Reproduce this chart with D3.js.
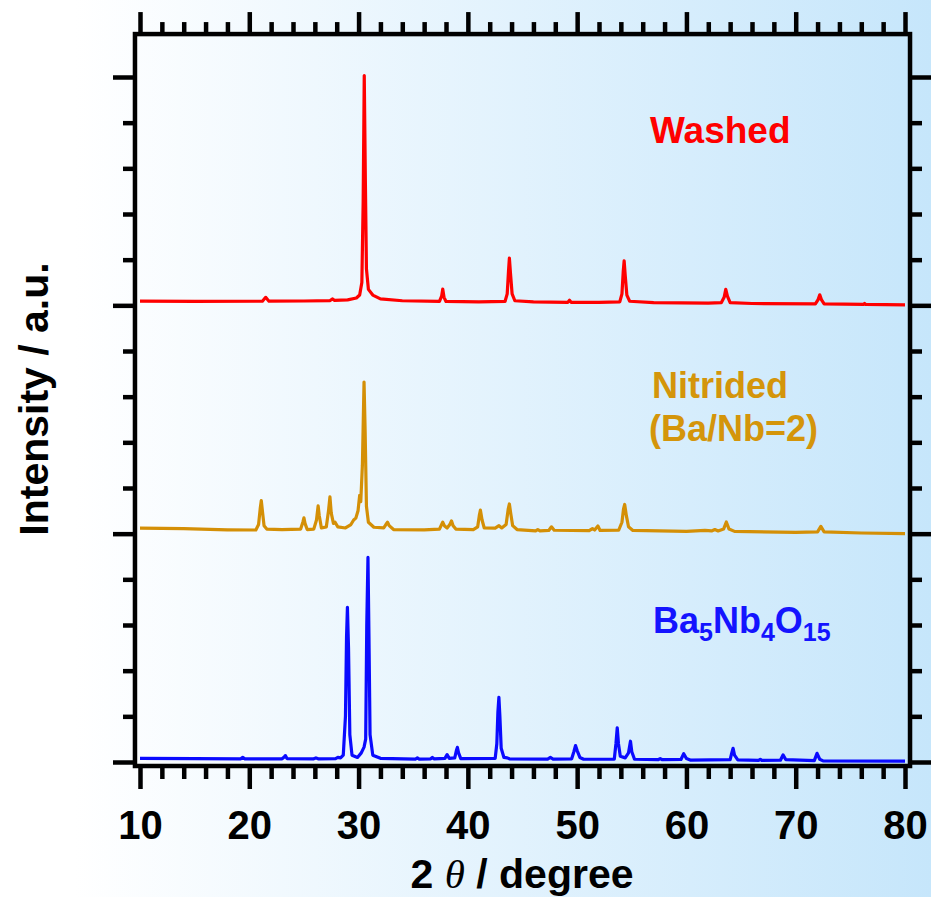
<!DOCTYPE html>
<html>
<head>
<meta charset="utf-8">
<script src="https://cdn.jsdelivr.net/npm/d3@7.9.0/dist/d3.min.js"></script>
<style>
  html, body { margin: 0; padding: 0; }
  body { width: 931px; height: 897px; overflow: hidden; }
  text { font-family: "Liberation Sans", Arial, sans-serif; font-weight: bold; }
</style>
</head>
<body>
<svg id="chart" width="931" height="897"></svg>
<script>
// XRD patterns, [2θ (degree), intensity above own offset (a.u.)]
const washedPattern = [
  [10,0.018],[15,0.017],[21.2,0.018],[21.5,0.035],[21.8,0.018],[25,0.019],[27.4,0.021],[27.6,0.028],[27.8,0.022],
  [29.0,0.024],[29.8,0.032],[30.1,0.045],[30.3,0.1],[30.42,0.45],[30.52,1.006],[30.62,0.55],[30.72,0.16],[30.9,0.07],
  [31.3,0.045],[32.0,0.028],[34,0.02],[37.4,0.017],[37.6,0.04],[37.7,0.071],[37.82,0.035],[38.0,0.017],[41,0.015],
  [43.4,0.017],[43.6,0.05],[43.72,0.15],[43.8,0.207],[43.9,0.14],[44.05,0.05],[44.3,0.02],[46,0.015],
  [49.15,0.013],[49.3,0.022],[49.45,0.013],[52,0.013],[53.9,0.015],[54.1,0.05],[54.22,0.15],[54.3,0.195],[54.4,0.13],
  [54.55,0.045],[54.8,0.018],[57,0.012],[62,0.01],[63.2,0.012],[63.45,0.035],[63.6,0.07],[63.75,0.04],[64.0,0.012],
  [66,0.008],[71.8,0.006],[72.05,0.025],[72.2,0.046],[72.35,0.025],[72.6,0.006],[76.2,0.004],[76.3,0.008],[76.4,0.004],[80,0.002]
];

const nitridedPattern = [
  [10,0.024],[14,0.022],[18,0.017],[20.6,0.016],[20.85,0.04],[21.0,0.11],[21.1,0.145],[21.2,0.1],[21.35,0.035],[21.6,0.02],
  [23,0.018],[24.7,0.02],[24.9,0.05],[25.0,0.069],[25.1,0.045],[25.3,0.018],[25.9,0.02],[26.15,0.06],[26.3,0.122],
  [26.4,0.08],[26.6,0.025],[27.05,0.03],[27.25,0.1],[27.38,0.161],[27.5,0.09],[27.7,0.045],[27.85,0.05],[28.1,0.03],
  [28.8,0.025],[29.3,0.04],[29.55,0.06],[29.75,0.068],[29.95,0.1],[30.1,0.168],[30.2,0.14],[30.35,0.3],[30.5,0.664],
  [30.6,0.45],[30.72,0.12],[30.9,0.05],[31.4,0.028],[32.3,0.025],[32.5,0.04],[32.65,0.05],[32.8,0.035],[33.2,0.018],
  [36,0.017],[37.4,0.02],[37.6,0.04],[37.7,0.05],[37.85,0.035],[38.1,0.025],[38.35,0.04],[38.5,0.056],[38.65,0.035],
  [38.9,0.02],[40.5,0.018],[40.9,0.03],[41.05,0.08],[41.15,0.103],[41.3,0.06],[41.5,0.025],[42.5,0.024],[42.85,0.035],
  [43.1,0.025],[43.5,0.04],[43.7,0.11],[43.8,0.13],[43.92,0.09],[44.1,0.035],[44.5,0.018],[46.2,0.012],[46.4,0.018],
  [46.6,0.012],[47.4,0.014],[47.65,0.03],[47.9,0.015],[51.1,0.013],[51.4,0.022],[51.6,0.016],[51.9,0.034],[52.1,0.014],
  [53.8,0.015],[54.1,0.05],[54.25,0.11],[54.35,0.128],[54.5,0.08],[54.7,0.03],[55.1,0.014],[60,0.01],[61.7,0.014],
  [62.3,0.012],[62.6,0.018],[62.9,0.012],[63.4,0.02],[63.65,0.051],[63.9,0.02],[64.4,0.01],[70,0.006],[72.0,0.008],
  [72.3,0.032],[72.6,0.008],[76,0.003],[80,0.0]
];

const bnoPattern = [
  [10,0.016],[15,0.015],[19.2,0.014],[19.4,0.02],[19.6,0.014],[23.0,0.014],[23.2,0.022],[23.3,0.028],[23.45,0.015],
  [25.9,0.014],[26.1,0.018],[26.3,0.014],[27.9,0.015],[28.1,0.02],[28.35,0.018],[28.6,0.03],[28.8,0.2],[28.9,0.55],
  [28.98,0.677],[29.08,0.5],[29.2,0.12],[29.4,0.03],[29.9,0.02],[30.25,0.04],[30.5,0.065],[30.65,0.1],[30.75,0.6],
  [30.86,0.896],[30.95,0.55],[31.05,0.12],[31.3,0.03],[32,0.016],[35.2,0.013],[35.38,0.018],[35.55,0.013],[36.6,0.014],
  [36.75,0.02],[36.9,0.014],[37.9,0.016],[38.1,0.032],[38.3,0.016],[38.8,0.018],[38.95,0.05],[39.04,0.064],[39.15,0.04],
  [39.35,0.015],[42.5,0.016],[42.65,0.08],[42.75,0.22],[42.84,0.283],[42.93,0.2],[43.05,0.06],[43.3,0.02],[43.6,0.018],
  [43.8,0.014],[47.3,0.013],[47.55,0.02],[47.8,0.013],[49.5,0.014],[49.7,0.045],[49.85,0.072],[50.0,0.05],[50.25,0.02],
  [50.6,0.012],[53.4,0.013],[53.55,0.08],[53.67,0.15],[53.78,0.08],[53.95,0.025],[54.4,0.018],[54.7,0.04],[54.88,0.091],
  [55.0,0.045],[55.25,0.012],[57.4,0.01],[57.6,0.015],[57.8,0.01],[59.5,0.011],[59.75,0.036],[60.0,0.015],[60.4,0.008],
  [64.0,0.01],[64.15,0.04],[64.27,0.06],[64.4,0.03],[64.7,0.009],[66.6,0.007],[66.76,0.012],[66.9,0.007],[68.6,0.008],
  [68.84,0.031],[69.1,0.01],[71.7,0.006],[71.95,0.038],[72.2,0.012],[72.5,0.005],[80,0.004]
];

const offsets = [2, 1, 0];
const lineColors = ["#ff0000", "#d48f06", "#0a0aff"];
const xMajorTicks = [10, 20, 30, 40, 50, 60, 70, 80];
const xMinorTicks = d3.range(12, 80, 2).filter(v => v % 10 !== 0);
const yMajorTicks = [0, 1, 2, 3];
const yMinorTicks = d3.range(1, 15).map(i => i / 5).filter(v => v % 1 !== 0);

const svg = d3.select("#chart");

// background gradient
const defs = svg.append("defs");
const grad = defs.append("linearGradient").attr("id", "bg").attr("x1", "0%").attr("x2", "100%");
grad.append("stop").attr("offset", "0%").attr("stop-color", "#ffffff");
grad.append("stop").attr("offset", "8%").attr("stop-color", "#ffffff");
grad.append("stop").attr("offset", "100%").attr("stop-color", "#c6e6fb");
svg.append("rect").attr("width", 931).attr("height", 897).attr("fill", "url(#bg)");

const x = d3.scaleLinear().domain([10, 80]).range([140, 905]);
const y = d3.scaleLinear().domain([0, 3]).range([762, 77]);

const frameL = x(9.54), frameR = x(80.46), frameT = y(3.188), frameB = y(-0.0175);

// patterns
const line = d3.line().x(d => x(d[0]));
[washedPattern, nitridedPattern, bnoPattern].forEach((pat, i) => {
  svg.append("path")
    .datum(pat)
    .attr("fill", "none")
    .attr("stroke", lineColors[i])
    .attr("stroke-width", 3.2)
    .attr("stroke-linejoin", "round")
    .attr("d", line.y(d => y(d[1] + offsets[i])));
});

// axes
function styleAxis(g) {
  g.select(".domain").remove();
  g.selectAll("line").attr("stroke", "#000").attr("stroke-width", 4.5);
}
svg.append("g").attr("transform", `translate(0,${frameB})`)
  .call(d3.axisBottom(x).tickValues(xMinorTicks).tickSize(13).tickFormat(""))
  .call(styleAxis);
svg.append("g").attr("transform", `translate(0,${frameB})`)
  .call(d3.axisBottom(x).tickValues(xMajorTicks).tickSize(23).tickFormat(d3.format("d")))
  .call(styleAxis)
  .call(g => g.selectAll("text").attr("y", 73).attr("dy", 0)
    .attr("fill", "#000").attr("font-size", 40).attr("font-family", "Liberation Sans, Arial, sans-serif")
    .attr("font-weight", "bold"));
svg.append("g").attr("transform", `translate(0,${frameT})`)
  .call(d3.axisTop(x).tickValues(xMinorTicks).tickSize(12).tickFormat(""))
  .call(styleAxis);
svg.append("g").attr("transform", `translate(0,${frameT})`)
  .call(d3.axisTop(x).tickValues(xMajorTicks).tickSize(22).tickFormat(""))
  .call(styleAxis);
svg.append("g").attr("transform", `translate(${frameL},0)`)
  .call(d3.axisLeft(y).tickValues(yMinorTicks).tickSize(12).tickFormat(""))
  .call(styleAxis);
svg.append("g").attr("transform", `translate(${frameL},0)`)
  .call(d3.axisLeft(y).tickValues(yMajorTicks).tickSize(22).tickFormat(""))
  .call(styleAxis);
svg.append("g").attr("transform", `translate(${frameR},0)`)
  .call(d3.axisRight(y).tickValues(yMinorTicks).tickSize(12).tickFormat(""))
  .call(styleAxis);
svg.append("g").attr("transform", `translate(${frameR},0)`)
  .call(d3.axisRight(y).tickValues(yMajorTicks).tickSize(22).tickFormat(""))
  .call(styleAxis);

// frame
svg.append("rect")
  .attr("x", frameL).attr("y", frameT)
  .attr("width", frameR - frameL).attr("height", frameB - frameT)
  .attr("fill", "none").attr("stroke", "#000").attr("stroke-width", 4.5);

// axis titles
const xt = svg.append("text").attr("x", 522).attr("y", 888)
  .attr("text-anchor", "middle").attr("font-size", 41).attr("fill", "#000");
xt.append("tspan").text("2 ");
xt.append("tspan").attr("font-family", "Liberation Serif, serif").attr("font-style", "italic")
  .attr("font-weight", "normal").text("θ");
xt.append("tspan").text(" / degree");

svg.append("text")
  .attr("transform", "translate(48,399) rotate(-90)")
  .attr("text-anchor", "middle").attr("font-size", 41).attr("fill", "#000")
  .text("Intensity / a.u.");

// sample labels
svg.append("text").attr("x", 650).attr("y", 143).attr("font-size", 37)
  .attr("fill", "#ff0000").text("Washed");
svg.append("text").attr("x", 652).attr("y", 398).attr("font-size", 36)
  .attr("fill", "#d4950a").text("Nitrided");
svg.append("text").attr("x", 649).attr("y", 441).attr("font-size", 36)
  .attr("fill", "#d4950a").text("(Ba/Nb=2)");

const bl = svg.append("text").attr("x", 653).attr("y", 633).attr("font-size", 36).attr("fill", "#1414ff");
[["Ba", false], ["5", true], ["Nb", false], ["4", true], ["O", false], ["15", true]].forEach(([t, sub], i, arr) => {
  const prevSub = i > 0 && arr[i - 1][1];
  const ts = bl.append("tspan").text(t);
  if (sub) ts.attr("font-size", 25).attr("dy", 8);
  else if (prevSub) ts.attr("dy", -8);
});
</script>
</body>
</html>
